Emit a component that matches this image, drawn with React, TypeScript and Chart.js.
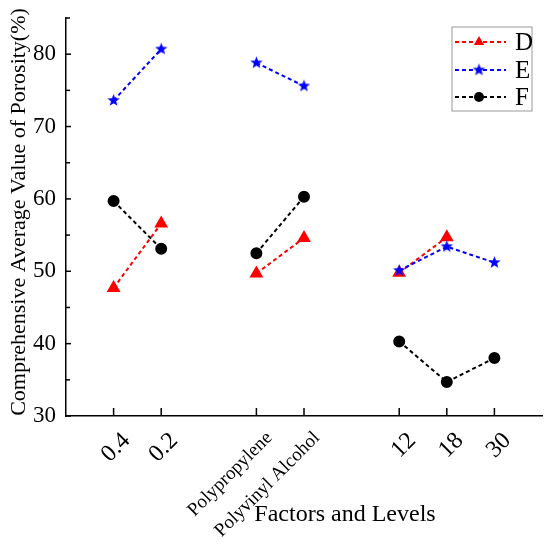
import { useEffect, useRef } from 'react';
import { Chart, registerables } from 'chart.js';

Chart.register(...registerables);

// blank entries separate the three factor groups
const categories = ['', '0.4', '0.2', '', 'Polypropylene', 'Polyvinyl Alcohol', '', '12', '18', '30', ''];
const seriesD = [null, 47.7, 56.6, null, 49.7, 54.6, null, 49.8, 54.7, null, null];
const seriesE = [null, 73.6, 80.7, null, 78.8, 75.6, null, 50.1, 53.4, 51.2, null];
const seriesF = [null, 59.7, 53.1, null, 52.5, 60.3, null, 40.3, 34.7, 38.0, null];
const seriesNames = ['D', 'E', 'F'];
const yTitle = 'Comprehensive Average Value of Porosity(%)';
const xTitle = 'Factors and Levels';

const FONT = '"Liberation Serif", "Times New Roman", serif';

function makeStar(color: string, r: number) {
  const c = document.createElement('canvas');
  const s = Math.ceil(r * 2 + 2);
  c.width = s;
  c.height = s;
  const g = c.getContext('2d')!;
  g.fillStyle = color;
  g.beginPath();
  for (let i = 0; i < 10; i++) {
    const rad = i % 2 === 0 ? r : r * 0.42;
    const a = -Math.PI / 2 + (i * Math.PI) / 5;
    const px = s / 2 + rad * Math.cos(a);
    const py = s / 2 + rad * Math.sin(a);
    if (i === 0) g.moveTo(px, py);
    else g.lineTo(px, py);
  }
  g.closePath();
  g.fill();
  return c;
}

const App = () => {
  const chartRef = useRef<HTMLCanvasElement>(null);
  const chartInstance = useRef<Chart | null>(null);

  useEffect(() => {
    if (chartInstance.current) {
      chartInstance.current.destroy();
    }
    const ctx = chartRef.current!.getContext('2d')!;
    const star = makeStar('#0000FF', 6.5);

    const decorations = {
      id: 'decorations',
      afterDraw(chart: any) {
        const c = chart.ctx;
        const area = chart.chartArea;
        const xs = chart.scales.x;
        const ys = chart.scales.y;
        c.save();
        c.strokeStyle = '#000';
        c.lineWidth = 1.5;
        // inward ticks
        categories.forEach((cat, i) => {
          if (!cat) return;
          const px = xs.getPixelForValue(i);
          c.beginPath();
          c.moveTo(px, area.bottom);
          c.lineTo(px, area.bottom - 8);
          c.stroke();
        });
        ys.ticks.forEach((t: any) => {
          const py = ys.getPixelForValue(t.value);
          const len = t.value % 10 === 0 ? 5 : 4;
          c.beginPath();
          c.moveTo(area.left, py);
          c.lineTo(area.left + len, py);
          c.stroke();
        });

        // axis titles
        c.fillStyle = '#000';
        c.font = `24px ${FONT}`;
        c.textAlign = 'center';
        c.textBaseline = 'alphabetic';
        c.fillText(xTitle, 345, 521);
        c.save();
        c.translate(25, 212);
        c.rotate(-Math.PI / 2);
        c.font = `22px ${FONT}`;
        c.fillText(yTitle, 0, 0);
        c.restore();

        // legend
        const x0 = area.right - 90;
        const y0 = area.top + 9;
        c.strokeStyle = '#999';
        c.lineWidth = 1;
        c.strokeRect(x0, y0, 80, 84);
        const rows = [15, 43, 70];
        chart.data.datasets.forEach((ds: any, i: number) => {
          const yy = y0 + rows[i];
          c.strokeStyle = ds.borderColor;
          c.lineWidth = 2;
          c.setLineDash([4, 3]);
          c.beginPath();
          c.moveTo(x0 + 3, yy);
          c.lineTo(x0 + 54, yy);
          c.stroke();
          c.setLineDash([]);
          const mx = x0 + 27;
          c.fillStyle = ds.pointBackgroundColor;
          if (ds.pointStyle === 'triangle') {
            const r = 6;
            c.beginPath();
            c.moveTo(mx, yy - r);
            c.lineTo(mx + r * 0.866, yy + r * 0.5);
            c.lineTo(mx - r * 0.866, yy + r * 0.5);
            c.closePath();
            c.fill();
          } else if (ds.pointStyle === 'circle') {
            c.beginPath();
            c.arc(mx, yy, 5, 0, Math.PI * 2);
            c.fill();
          } else {
            c.drawImage(star, mx - star.width / 2, yy - star.height / 2);
          }
          c.fillStyle = '#000';
          c.font = `25px ${FONT}`;
          c.textAlign = 'left';
          c.textBaseline = 'middle';
          c.fillText(ds.label, x0 + 63, yy + 1);
        });
        c.restore();
      },
    };

    chartInstance.current = new Chart(ctx, {
      type: 'line',
      data: {
        labels: categories,
        datasets: [
          {
            label: seriesNames[0],
            data: seriesD,
            borderColor: '#FF0000',
            backgroundColor: '#FF0000',
            pointBackgroundColor: '#FF0000',
            pointBorderColor: '#FF0000',
            pointStyle: 'triangle',
            pointRadius: 6,
            borderWidth: 2,
            borderDash: [4, 3],
            order: 3,
          },
          {
            label: seriesNames[1],
            data: seriesE,
            borderColor: '#0000FF',
            backgroundColor: '#0000FF',
            pointBackgroundColor: '#0000FF',
            pointBorderColor: '#0000FF',
            pointStyle: star,
            pointRadius: 6,
            borderWidth: 2,
            borderDash: [4, 3],
            order: 1,
          },
          {
            label: seriesNames[2],
            data: seriesF,
            borderColor: '#000000',
            backgroundColor: '#000000',
            pointBackgroundColor: '#000000',
            pointBorderColor: '#000000',
            pointStyle: 'circle',
            pointRadius: 5,
            borderWidth: 2,
            borderDash: [4, 3],
            order: 2,
          },
        ],
      },
      options: {
        animation: false,
        responsive: true,
        maintainAspectRatio: false,
        layout: { padding: { top: 18, right: 8, left: 0, bottom: 0 } },
        plugins: {
          legend: { display: false },
          tooltip: { enabled: false },
        },
        scales: {
          x: {
            offset: false,
            grid: { display: false, drawTicks: false },
            border: { display: true, color: '#000', width: 1.5 },
            afterFit: (scale: any) => {
              scale.height = 132;
              scale.paddingLeft = 0;
              scale.paddingRight = 0;
            },
            ticks: {
              autoSkip: false,
              minRotation: 45,
              maxRotation: 45,
              padding: 11,
              labelOffset: 13,
              color: '#000',
              font: (c: any) => {
                const lbl = categories[c.index] || '';
                return { family: FONT, size: lbl.length > 4 ? 19 : 24 };
              },
            },
          },
          y: {
            min: 30,
            max: 85,
            grid: { display: false, drawTicks: false },
            border: { display: true, color: '#000', width: 1.5 },
            afterFit: (scale: any) => {
              scale.width = 66;
              scale.paddingTop = 0;
              scale.paddingBottom = 0;
            },
            ticks: {
              stepSize: 5,
              padding: 10,
              color: '#000',
              font: { family: FONT, size: 23 },
              callback: (v: any) => (Number(v) % 10 === 0 ? String(v) : ''),
            },
          },
        },
      },
      plugins: [decorations],
    });

    return () => {
      if (chartInstance.current) {
        chartInstance.current.destroy();
        chartInstance.current = null;
      }
    };
  }, []);

  return (
    <div style={{ position: 'fixed', left: 0, top: 0, width: 550, height: 548, background: '#fff' }}>
      <canvas ref={chartRef}></canvas>
    </div>
  );
};

export default App;
